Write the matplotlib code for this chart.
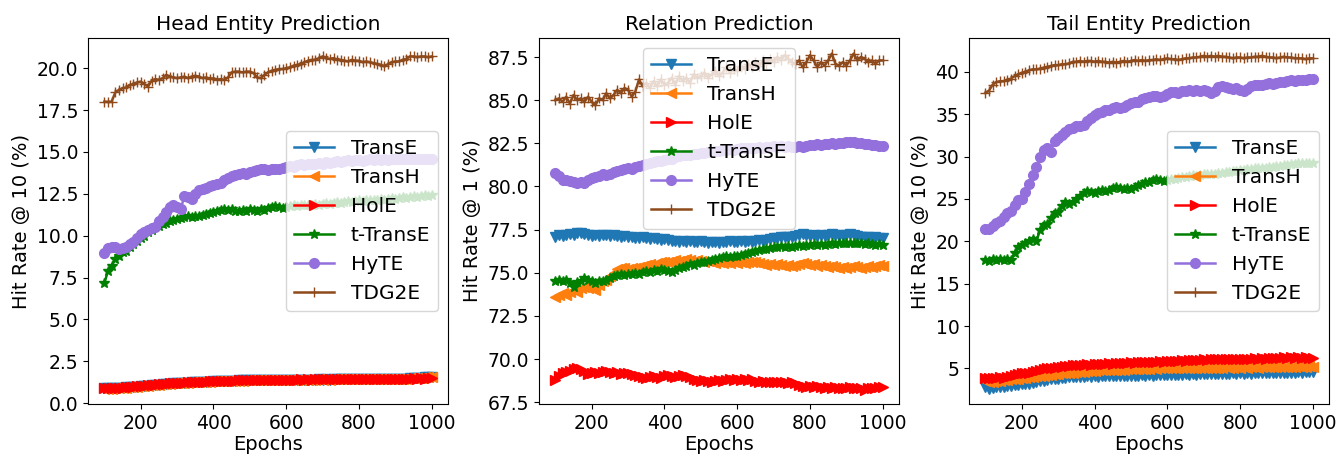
import matplotlib
matplotlib.use("Agg")
import matplotlib.pyplot as plt

epochs = list(range(100, 1001, 10))
models = ["TransE", "TransH", "HolE", "t-TransE", "HyTE", "TDG2E"]
markers = ["v", "<", ">", "*", "o", "+"]
colors = ["#1f77b4", "#ff7f0e", "red", "green", "mediumpurple", "#8f4a1c"]

# ---------------- Head entity prediction (Hit@10) ----------------
head_TransE = [0.93, 0.9, 0.9, 0.92, 0.9, 0.92, 0.94, 0.95, 0.97, 0.99,
               1.01, 1.03, 1.05, 1.07, 1.09, 1.11, 1.13, 1.15, 1.17, 1.18,
               1.19, 1.21, 1.22, 1.23, 1.24, 1.25, 1.26, 1.27, 1.28, 1.29,
               1.3, 1.31, 1.31, 1.32, 1.33, 1.33, 1.34, 1.38, 1.36, 1.36,
               1.36, 1.37, 1.36, 1.37, 1.38, 1.37, 1.38, 1.39, 1.38, 1.39,
               1.39, 1.4, 1.39, 1.4, 1.41, 1.4, 1.41, 1.4, 1.41, 1.42,
               1.41, 1.42, 1.41, 1.42, 1.43, 1.42, 1.43, 1.42, 1.43, 1.42,
               1.43, 1.44, 1.43, 1.44, 1.43, 1.44, 1.43, 1.44, 1.45, 1.44,
               1.45, 1.44, 1.45, 1.46, 1.47, 1.48, 1.5, 1.52, 1.53, 1.54,
               1.55]
head_TransH = [0.85, 0.87, 0.86, 0.88, 0.89, 0.9, 0.92, 0.94, 0.96, 0.98,
               1.0, 1.03, 1.05, 1.07, 1.09, 1.11, 1.13, 1.15, 1.17, 1.18,
               1.19, 1.21, 1.22, 1.23, 1.24, 1.25, 1.26, 1.27, 1.28, 1.29,
               1.3, 1.31, 1.31, 1.32, 1.33, 1.33, 1.34, 1.35, 1.35, 1.36,
               1.36, 1.37, 1.36, 1.37, 1.38, 1.37, 1.38, 1.39, 1.38, 1.39,
               1.39, 1.4, 1.39, 1.4, 1.41, 1.4, 1.41, 1.4, 1.41, 1.42,
               1.41, 1.42, 1.41, 1.42, 1.43, 1.42, 1.43, 1.42, 1.43, 1.42,
               1.43, 1.44, 1.43, 1.44, 1.43, 1.44, 1.43, 1.44, 1.45, 1.44,
               1.45, 1.44, 1.45, 1.46, 1.48, 1.5, 1.51, 1.52, 1.53, 1.53,
               1.54]
head_HolE = [0.9, 0.88, 0.9, 0.92, 0.9, 0.93, 0.95, 0.96, 0.98, 1.0,
             1.02, 1.05, 1.06, 1.08, 1.1, 1.12, 1.14, 1.16, 1.18, 1.19,
             1.2, 1.22, 1.23, 1.24, 1.25, 1.26, 1.27, 1.28, 1.29, 1.3,
             1.31, 1.32, 1.32, 1.33, 1.34, 1.34, 1.35, 1.36, 1.36, 1.37,
             1.37, 1.38, 1.37, 1.38, 1.39, 1.38, 1.39, 1.4, 1.39, 1.4,
             1.4, 1.41, 1.4, 1.41, 1.42, 1.41, 1.42, 1.41, 1.42, 1.43,
             1.42, 1.43, 1.42, 1.43, 1.44, 1.43, 1.44, 1.43, 1.44, 1.43,
             1.44, 1.45, 1.44, 1.45, 1.44, 1.45, 1.44, 1.45, 1.46, 1.45,
             1.46, 1.45, 1.46, 1.45, 1.46, 1.47, 1.46, 1.47, 1.46, 1.47,
             1.47]
head_tTransE = [7.15, 7.9, 8.2, 8.6, 8.8, 9.0, 9.1, 9.3, 9.5, 9.7,
                9.85, 10.0, 10.2, 10.35, 10.5, 10.6, 10.7, 10.75, 10.85, 10.95,
                11.0, 11.05, 11.1, 11.15, 11.1, 11.2, 11.2, 11.25, 11.3, 11.35,
                11.4, 11.45, 11.55, 11.6, 11.55, 11.6, 11.5, 11.45, 11.55, 11.5,
                11.6, 11.55, 11.5, 11.6, 11.55, 11.65, 11.7, 11.75, 11.7, 11.65,
                11.7, 11.75, 11.8, 11.75, 11.8, 11.85, 11.8, 11.85, 11.9, 11.85,
                11.9, 11.95, 11.9, 11.95, 12.0, 11.95, 12.0, 12.05, 12.0, 12.05,
                12.1, 12.05, 12.1, 12.15, 12.1, 12.15, 12.2, 12.15, 12.2, 12.25,
                12.2, 12.25, 12.3, 12.25, 12.3, 12.35, 12.3, 12.35, 12.4, 12.35,
                12.4]
head_HyTE = [8.95, 9.25, 9.35, 9.3, 9.2, 9.25, 9.35, 9.5, 9.6, 9.85,
             10.1, 10.2, 10.35, 10.45, 10.5, 10.9, 11.1, 11.4, 11.7, 11.85,
             11.7, 11.6, 12.35, 12.3, 12.2, 12.5, 12.7, 12.8, 12.85, 12.95,
             13.05, 13.1, 13.15, 13.3, 13.45, 13.55, 13.6, 13.7, 13.75, 13.7,
             13.8, 13.85, 13.9, 13.95, 14.0, 13.9, 13.95, 14.0, 13.95, 14.05,
             14.1, 14.15, 14.1, 14.2, 14.25, 14.2, 14.3, 14.25, 14.3, 14.35,
             14.3, 14.4, 14.35, 14.4, 14.45, 14.4, 14.45, 14.5, 14.45, 14.5,
             14.5, 14.45, 14.5, 14.55, 14.5, 14.55, 14.5, 14.55, 14.5, 14.55,
             14.6, 14.55, 14.6, 14.55, 14.6, 14.55, 14.6, 14.55, 14.6, 14.6,
             14.6]
head_TDG2E = [18.0, 18.0, 18.0, 18.55, 18.7, 18.8, 18.85, 19.0, 19.05, 19.15,
              19.2, 19.05, 18.9, 19.25, 19.35, 19.3, 19.4, 19.6, 19.5, 19.45,
              19.4, 19.45, 19.5, 19.4, 19.5, 19.55, 19.5, 19.4, 19.45, 19.35,
              19.4, 19.3, 19.35, 19.3, 19.45, 19.75, 19.8, 19.8, 19.75, 19.8,
              19.8, 19.7, 19.45, 19.4, 19.6, 19.75, 19.85, 19.9, 19.95, 19.95,
              20.0, 20.05, 20.15, 20.2, 20.25, 20.35, 20.45, 20.5, 20.5, 20.6,
              20.7, 20.6, 20.55, 20.6, 20.5, 20.5, 20.45, 20.4, 20.5, 20.45,
              20.45, 20.35, 20.4, 20.35, 20.3, 20.25, 20.2, 20.1, 20.25, 20.35,
              20.4, 20.4, 20.5, 20.55, 20.7, 20.7, 20.65, 20.7, 20.7, 20.65,
              20.7]

# ---------------- Relation prediction (Hit@1) ----------------
rel_TransE = [77.1, 77.2, 77.15, 77.2, 77.25, 77.2, 77.3, 77.3, 77.25, 77.2,
              77.15, 77.2, 77.15, 77.2, 77.2, 77.15, 77.2, 77.15, 77.1, 77.15,
              77.1, 77.05, 77.0, 77.0, 77.05, 77.0, 76.95, 77.0, 76.95, 76.9,
              76.95, 76.9, 76.85, 76.85, 76.8, 76.85, 76.8, 76.85, 76.8, 76.8,
              76.85, 76.8, 76.75, 76.8, 76.8, 76.75, 76.8, 76.8, 76.85, 76.8,
              76.8, 76.85, 76.8, 76.85, 76.8, 76.85, 76.9, 76.85, 76.9, 76.95,
              77.0, 77.0, 77.05, 77.1, 77.05, 77.1, 77.15, 77.2, 77.25, 77.2,
              77.15, 77.2, 77.15, 77.2, 77.15, 77.2, 77.25, 77.2, 77.15, 77.2,
              77.2, 77.25, 77.2, 77.15, 77.1, 77.1, 77.05, 77.0, 77.05, 77.0,
              77.0]
rel_TransH = [73.6, 73.7, 73.8, 73.7, 73.9, 74.0, 73.9, 74.1, 74.2, 74.1,
              74.2, 74.0, 74.3, 74.5, 74.6, 74.8, 75.0, 75.2, 75.25, 75.3,
              75.2, 75.3, 75.25, 75.35, 75.4, 75.45, 75.5, 75.45, 75.55, 75.6,
              75.65, 75.6, 75.7, 75.75, 75.7, 75.75, 75.8, 75.75, 75.7, 75.75,
              75.7, 75.65, 75.7, 75.6, 75.55, 75.6, 75.55, 75.6, 75.55, 75.6,
              75.55, 75.6, 75.55, 75.6, 75.65, 75.6, 75.55, 75.5, 75.45, 75.5,
              75.45, 75.5, 75.45, 75.4, 75.45, 75.4, 75.45, 75.5, 75.55, 75.5,
              75.45, 75.5, 75.4, 75.45, 75.4, 75.35, 75.4, 75.35, 75.3, 75.35,
              75.3, 75.35, 75.4, 75.35, 75.3, 75.35, 75.4, 75.35, 75.4, 75.45,
              75.4]
rel_HolE = [68.8, 69.0, 69.2, 69.25, 69.3, 69.4, 69.5, 69.45, 69.3, 69.15,
            69.2, 69.25, 69.2, 69.25, 69.3, 69.25, 69.2, 69.25, 69.15, 69.2,
            69.2, 69.15, 69.1, 69.0, 68.95, 68.9, 68.95, 69.0, 68.95, 68.9,
            69.0, 69.05, 69.0, 68.95, 69.0, 69.05, 69.0, 68.95, 68.85, 68.8,
            68.75, 68.8, 68.75, 68.7, 68.75, 68.8, 68.75, 68.8, 68.85, 68.8,
            68.85, 68.8, 68.85, 68.8, 68.85, 68.75, 68.7, 68.75, 68.7, 68.65,
            68.7, 68.65, 68.7, 68.65, 68.6, 68.65, 68.6, 68.5, 68.45, 68.4,
            68.45, 68.4, 68.45, 68.4, 68.35, 68.4, 68.35, 68.4, 68.35, 68.3,
            68.35, 68.4, 68.35, 68.3, 68.35, 68.2, 68.3, 68.35, 68.3, 68.4,
            68.4]
rel_tTransE = [74.5, 74.6, 74.55, 74.6, 74.4, 74.2, 74.45, 74.55, 74.7, 74.6,
               74.5, 74.4, 74.5, 74.55, 74.6, 74.7, 74.8, 74.85, 74.9, 74.85,
               74.95, 74.9, 75.0, 74.95, 75.05, 75.1, 75.05, 75.15, 75.1, 75.2,
               75.15, 75.1, 75.05, 75.15, 75.25, 75.35, 75.4, 75.5, 75.45, 75.55,
               75.6, 75.65, 75.7, 75.75, 75.8, 75.85, 75.9, 75.95, 75.9, 75.95,
               76.0, 76.05, 76.1, 76.15, 76.2, 76.25, 76.3, 76.35, 76.4, 76.45,
               76.5, 76.5, 76.55, 76.5, 76.55, 76.5, 76.55, 76.6, 76.55, 76.6,
               76.6, 76.65, 76.6, 76.65, 76.6, 76.65, 76.7, 76.65, 76.7, 76.75,
               76.7, 76.75, 76.7, 76.75, 76.7, 76.65, 76.7, 76.65, 76.6, 76.65,
               76.6]
rel_HyTE = [80.8, 80.6, 80.4, 80.35, 80.3, 80.25, 80.2, 80.25, 80.2, 80.35,
            80.5, 80.55, 80.6, 80.7, 80.65, 80.75, 80.85, 80.9, 80.95, 81.0,
            81.05, 81.0, 81.1, 81.2, 81.25, 81.3, 81.35, 81.4, 81.45, 81.5,
            81.55, 81.6, 81.6, 81.7, 81.75, 81.8, 81.8, 81.85, 81.9, 81.9,
            81.95, 81.95, 82.0, 82.0, 82.05, 82.05, 82.1, 82.1, 82.15, 82.1,
            82.15, 82.2, 82.2, 82.25, 82.2, 82.25, 82.3, 82.25, 82.3, 82.3,
            82.35, 82.3, 82.35, 82.3, 82.35, 82.3, 82.3, 82.35, 82.3, 82.35,
            82.4, 82.4, 82.45, 82.4, 82.45, 82.45, 82.5, 82.45, 82.5, 82.5,
            82.55, 82.6, 82.55, 82.5, 82.5, 82.45, 82.45, 82.4, 82.4, 82.35,
            82.35]
rel_TDG2E = [85.0, 85.1, 84.9, 85.2, 84.8, 85.3, 85.0, 85.1, 84.9, 85.2,
             84.9, 84.7, 85.1, 85.0, 85.4, 85.1, 85.3, 85.6, 85.4, 85.7,
             85.6, 85.2, 85.5, 86.2, 85.8, 86.0, 85.7, 86.1, 85.8, 86.2,
             85.9, 86.0, 86.3, 85.9, 86.4, 86.1, 86.3, 86.0, 86.5, 86.3,
             86.4, 86.6, 86.3, 86.5, 86.7, 86.4, 86.6, 86.9, 86.6, 86.8,
             86.7, 87.0, 86.8, 87.1, 86.9, 87.2, 87.0, 87.3, 87.1, 87.4,
             87.2, 87.5, 87.3, 87.6, 87.4, 87.2, 87.1, 87.3, 86.9, 87.2,
             87.6, 87.3, 86.9, 87.2, 87.0, 87.3, 87.7, 87.1, 87.0, 87.2,
             87.0, 87.3, 87.7, 87.3, 87.5, 87.4, 87.2, 87.3, 87.1, 87.3,
             87.3]

# ---------------- Tail entity prediction (Hit@10) ----------------
tail_TransE = [2.8, 2.6, 2.7, 2.75, 2.8, 2.85, 2.9, 2.95, 3.0, 3.05,
               3.1, 3.15, 3.2, 3.3, 3.4, 3.5, 3.55, 3.6, 3.7, 3.75,
               3.8, 3.85, 3.9, 3.95, 3.95, 4.0, 3.95, 4.0, 4.05, 4.0,
               4.05, 4.0, 4.05, 4.1, 4.05, 4.1, 4.05, 4.1, 4.15, 4.1,
               4.15, 4.1, 4.15, 4.2, 4.15, 4.2, 4.15, 4.2, 4.25, 4.2,
               4.25, 4.2, 4.25, 4.2, 4.25, 4.3, 4.25, 4.3, 4.25, 4.3,
               4.3, 4.35, 4.3, 4.35, 4.3, 4.35, 4.3, 4.35, 4.4, 4.35,
               4.4, 4.35, 4.4, 4.35, 4.4, 4.45, 4.4, 4.45, 4.4, 4.45,
               4.45, 4.5, 4.45, 4.5, 4.45, 4.5, 4.55, 4.5, 4.55, 4.6,
               4.6]
tail_TransH = [3.5, 3.45, 3.4, 3.5, 3.55, 3.6, 3.65, 3.7, 3.75, 3.8,
               3.85, 3.9, 3.95, 4.0, 4.05, 4.1, 4.15, 4.2, 4.25, 4.3,
               4.35, 4.4, 4.45, 4.5, 4.5, 4.55, 4.6, 4.6, 4.65, 4.7,
               4.7, 4.75, 4.75, 4.8, 4.8, 4.8, 4.85, 4.85, 4.85, 4.9,
               4.9, 4.9, 4.95, 4.9, 4.95, 4.95, 5.0, 4.95, 5.0, 5.0,
               5.0, 5.05, 5.0, 5.05, 5.0, 5.05, 5.05, 5.1, 5.05, 5.1,
               5.05, 5.1, 5.1, 5.05, 5.1, 5.1, 5.15, 5.1, 5.1, 5.15,
               5.1, 5.15, 5.1, 5.15, 5.15, 5.1, 5.15, 5.2, 5.15, 5.15,
               5.2, 5.15, 5.2, 5.2, 5.15, 5.2, 5.25, 5.2, 5.2, 5.25,
               5.2]
tail_HolE = [3.9, 3.9, 3.85, 3.9, 3.95, 3.9, 4.0, 4.1, 4.2, 4.3,
             4.4, 4.5, 4.5, 4.6, 4.7, 4.8, 4.9, 5.0, 5.05, 5.1,
             5.2, 5.2, 5.25, 5.3, 5.35, 5.4, 5.4, 5.45, 5.5, 5.45,
             5.5, 5.55, 5.5, 5.55, 5.6, 5.55, 5.6, 5.65, 5.6, 5.65,
             5.7, 5.65, 5.7, 5.75, 5.7, 5.8, 5.75, 5.8, 5.85, 5.8,
             5.85, 5.9, 5.85, 5.9, 5.95, 5.9, 5.95, 6.0, 5.95, 6.0,
             6.05, 6.0, 6.05, 6.1, 6.05, 6.1, 6.1, 6.05, 6.1, 6.15,
             6.1, 6.15, 6.1, 6.15, 6.2, 6.15, 6.2, 6.15, 6.2, 6.25,
             6.2, 6.25, 6.3, 6.25, 6.3, 6.25, 6.3, 6.25, 6.3, 6.25,
             6.2]
tail_tTransE = [17.8, 17.7, 17.9, 17.8, 17.9, 17.8, 17.9, 17.8, 18.6, 19.3,
                19.6, 19.8, 20.0, 20.3, 20.0, 21.3, 21.9, 22.0, 22.7, 23.3,
                23.5, 24.2, 24.6, 24.4, 24.6, 25.0, 25.4, 25.7, 25.9, 25.8,
                25.7, 25.9, 26.0, 25.9, 26.1, 26.3, 26.4, 26.3, 26.2, 26.3,
                26.2, 26.4, 26.6, 26.8, 27.0, 27.0, 27.2, 27.4, 27.2, 27.1,
                27.2, 27.3, 27.4, 27.5, 27.6, 27.6, 27.7, 27.8, 27.7, 27.8,
                27.9, 27.9, 28.0, 28.0, 28.1, 28.1, 28.2, 28.2, 28.3, 28.3,
                28.4, 28.4, 28.5, 28.5, 28.6, 28.6, 28.7, 28.7, 28.8, 28.8,
                28.9, 28.9, 29.0, 29.0, 29.1, 29.1, 29.2, 29.2, 29.3, 29.2,
                29.3]
tail_HyTE = [21.5, 21.5, 21.8, 22.2, 22.4, 22.9, 23.3, 23.6, 24.3, 24.9,
             25.0, 25.8, 26.8, 27.8, 28.8, 30.0, 30.8, 31.0, 30.6, 31.9,
             32.2, 32.5, 32.9, 33.2, 33.4, 33.6, 33.6, 33.7, 34.2, 34.6,
             34.9, 35.1, 35.3, 35.5, 35.5, 35.7, 35.9, 35.7, 35.9, 36.1,
             36.3, 36.4, 36.5, 36.8, 36.9, 37.0, 37.2, 37.1, 37.0, 37.2,
             37.4, 37.6, 37.6, 37.5, 37.7, 37.8, 37.9, 37.8, 37.9, 37.8,
             37.9, 37.8, 37.5, 37.8, 38.2, 38.3, 38.2, 38.1, 38.0, 38.1,
             37.9, 37.7, 38.0, 38.3, 38.5, 38.4, 38.5, 38.6, 38.7, 38.6,
             38.7, 38.8, 38.8, 38.9, 39.0, 38.9, 39.0, 39.1, 39.1, 39.2,
             39.2]
tail_TDG2E = [37.5, 37.8, 38.5, 38.8, 38.9, 38.9, 39.1, 39.2, 39.5, 39.7,
              39.9, 40.0, 40.2, 40.3, 40.3, 40.4, 40.5, 40.6, 40.7, 40.8,
              40.8, 40.9, 40.9, 41.0, 41.2, 41.2, 41.3, 41.2, 41.3, 41.3,
              41.2, 41.3, 41.2, 41.2, 41.1, 41.2, 41.1, 41.2, 41.3, 41.2,
              41.3, 41.4, 41.3, 41.4, 41.3, 41.4, 41.4, 41.5, 41.4, 41.5,
              41.6, 41.5, 41.5, 41.4, 41.5, 41.6, 41.6, 41.7, 41.7, 41.8,
              41.9, 41.8, 41.9, 41.8, 41.9, 41.8, 41.8, 41.7, 41.6, 41.7,
              41.7, 41.6, 41.7, 41.7, 41.8, 41.8, 41.9, 41.8, 41.7, 41.7,
              41.6, 41.7, 41.8, 41.7, 41.7, 41.6, 41.6, 41.6, 41.5, 41.6,
              41.6]

titles = ["Head Entity Prediction", "Relation Prediction", "Tail Entity Prediction"]
ylabels = ["Hit Rate @ 10 (%)", "Hit Rate @ 1 (%)", "Hit Rate @ 10 (%)"]
head_yticks = [0.0, 2.5, 5.0, 7.5, 10.0, 12.5, 15.0, 17.5, 20.0]
rel_yticks = [67.5, 70.0, 72.5, 75.0, 77.5, 80.0, 82.5, 85.0, 87.5]
tail_yticks = [5, 10, 15, 20, 25, 30, 35, 40]
xticks = [200, 400, 600, 800, 1000]

panels = [
    [head_TransE, head_TransH, head_HolE, head_tTransE, head_HyTE, head_TDG2E],
    [rel_TransE, rel_TransH, rel_HolE, rel_tTransE, rel_HyTE, rel_TDG2E],
    [tail_TransE, tail_TransH, tail_HolE, tail_tTransE, tail_HyTE, tail_TDG2E],
]
yticks_all = [head_yticks, rel_yticks, tail_yticks]
ylims = [(-0.05, 21.8), (67.4, 88.6), (0.8, 44.0)]
legend_locs = ["center right", "upper center", "center right"]

fig = plt.figure(figsize=(13.39, 4.58), dpi=100)
lefts = [0.0657, 0.4025, 0.7237]
for i in range(3):
    ax = fig.add_axes([lefts[i], 0.118, 0.269, 0.799])
    for series, name, mk, col in zip(panels[i], models, markers, colors):
        ax.plot(epochs, series, marker=mk, color=col, label=name,
                linewidth=1.8, markersize=7)
    ax.set_title(titles[i], fontsize=14.5)
    ax.set_xlabel("Epochs", fontsize=14, labelpad=2)
    ax.set_ylabel(ylabels[i], fontsize=14, labelpad=4)
    ax.set_xticks(xticks)
    ax.set_yticks(yticks_all[i])
    ax.set_ylim(*ylims[i])
    ax.set_xlim(55, 1045)
    ax.tick_params(labelsize=13.5)
    ax.legend(loc=legend_locs[i], fontsize=14.5)

fig.savefig("out.png", dpi=100)
